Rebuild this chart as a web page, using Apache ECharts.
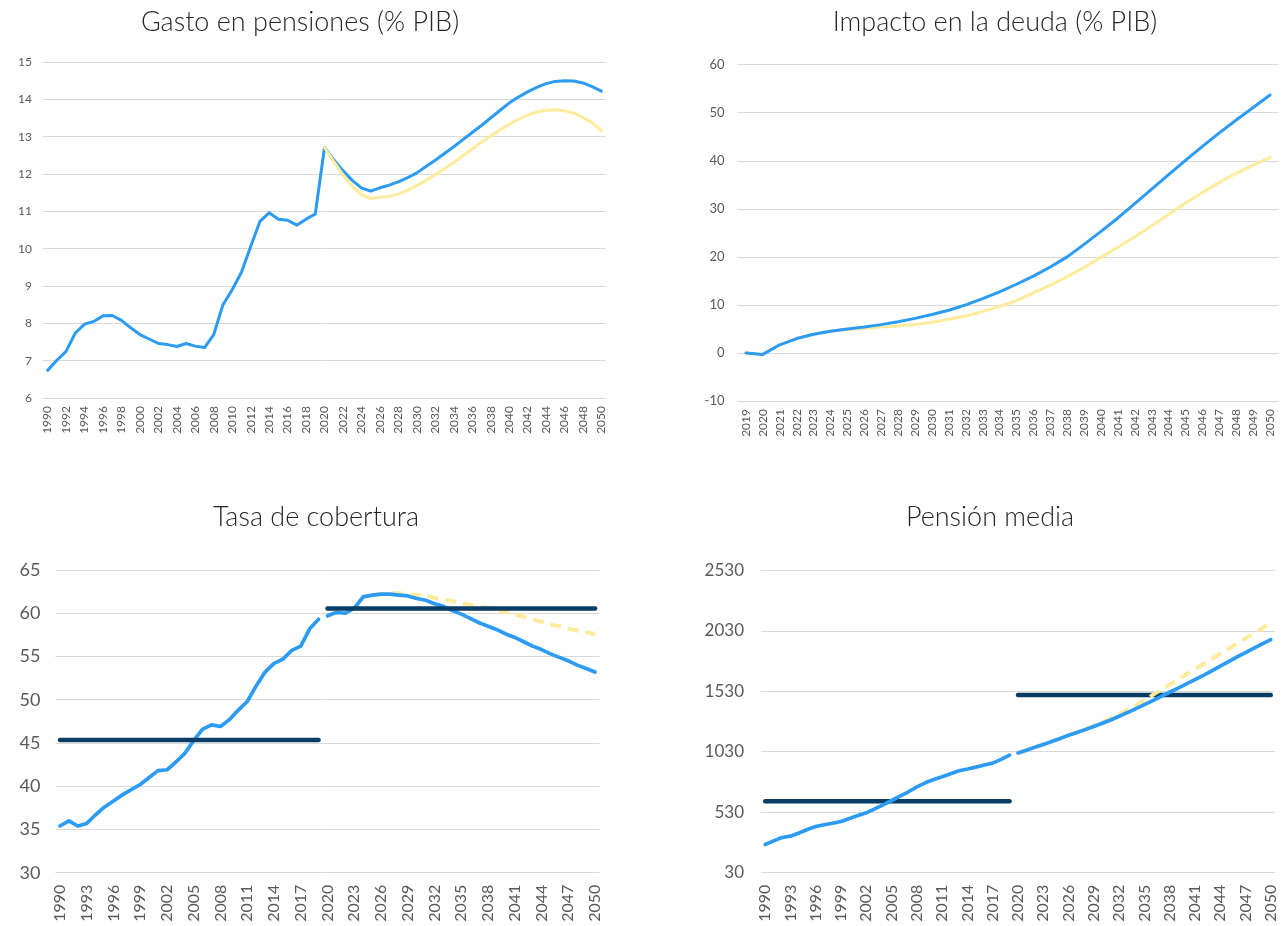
<!DOCTYPE html>
<html>
<head>
<meta charset="utf-8">
<title>Pensiones</title>
<script src="https://cdn.jsdelivr.net/npm/echarts@6/dist/echarts.min.js"></script>
<style>
  html, body { margin: 0; padding: 0; background: #fff; }
  #chart { width: 1283px; height: 926px; }
</style>
</head>
<body>
<div id="chart"></div>
<script>
// --- categorías (años) ---
const yearRange = (a, b) => { const out = []; for (let y = a; y <= b; y++) out.push(String(y)); return out; };
const yearsLong = yearRange(1990, 2050);   // gráficos 1, 3 y 4
const yearsDeuda = yearRange(2019, 2050);  // gráfico 2

// --- Gasto en pensiones (% PIB) ---
const gastoBase = [6.74, 7.01, 7.25, 7.74, 7.98, 8.05, 8.20, 8.21, 8.08, 7.88,
  7.70, 7.58, 7.46, 7.43, 7.38, 7.46, 7.39, 7.35, 7.70, 8.50,
  8.90, 9.37, 10.06, 10.73, 10.96, 10.79, 10.76, 10.63, 10.79, 10.93,
  12.71, 12.38, 12.09, 11.83, 11.63, 11.54, 11.63, 11.70, 11.79, 11.90,
  12.03, 12.20, 12.37, 12.55, 12.73, 12.92, 13.11, 13.30, 13.50, 13.70,
  13.90, 14.06, 14.20, 14.32, 14.42, 14.48, 14.50, 14.49, 14.44, 14.34, 14.22];
// 2020-2050
const gastoAlt = [12.71, 12.34, 11.98, 11.67, 11.45, 11.34, 11.38, 11.40, 11.46, 11.56,
  11.69, 11.83, 11.98, 12.14, 12.31, 12.49, 12.67, 12.85, 13.02, 13.18,
  13.33, 13.46, 13.58, 13.66, 13.71, 13.72, 13.69, 13.63, 13.52, 13.37, 13.16];

// --- Impacto en la deuda (% PIB), 2019-2050 ---
const deudaBase = [0, -0.3, 1.7, 3.0, 3.9, 4.5, 5.0, 5.4, 5.9, 6.5,
  7.2, 8.0, 8.9, 10.0, 11.3, 12.7, 14.3, 16.0, 17.9, 20.0,
  22.6, 25.3, 28.1, 31.1, 34.1, 37.1, 40.1, 43.0, 45.8, 48.5, 51.1, 53.7];
const deudaAlt = [0, -0.3, 1.7, 3.0, 3.9, 4.5, 4.9, 5.1, 5.4, 5.6,
  5.9, 6.4, 7.0, 7.7, 8.6, 9.7, 10.9, 12.5, 14.1, 15.9,
  17.8, 19.9, 22.0, 24.2, 26.5, 28.8, 31.2, 33.4, 35.5, 37.4, 39.1, 40.7];

// --- Tasa de cobertura ---
// 1990-2019
const cobHist = [35.4, 36.0, 35.4, 35.7, 36.7, 37.6, 38.3, 39.0, 39.6, 40.2,
  41.0, 41.8, 41.9, 42.8, 43.8, 45.3, 46.6, 47.1, 46.9, 47.7,
  48.8, 49.8, 51.6, 53.2, 54.2, 54.7, 55.7, 56.2, 58.2, 59.3];
// 2020-2050
const cobProj = [59.7, 60.1, 60.0, 60.6, 61.9, 62.1, 62.2, 62.2, 62.1, 62.0,
  61.7, 61.5, 61.1, 60.8, 60.3, 59.9, 59.4, 58.9, 58.5, 58.1,
  57.6, 57.2, 56.7, 56.2, 55.8, 55.3, 54.9, 54.5, 54.0, 53.6, 53.2];
const cobAlt = [59.7, 60.1, 60.0, 60.6, 61.9, 62.1, 62.2, 62.3, 62.3, 62.2,
  62.1, 62.0, 61.8, 61.6, 61.4, 61.2, 61.0, 60.8, 60.6, 60.4,
  60.1, 59.85, 59.6, 59.3, 59.0, 58.7, 58.5, 58.2, 58.0, 57.8, 57.6];
const cobMediaHist = 45.35;
const cobMediaProj = 60.55;

// --- Pensión media ---
// 1990-2019
const penHist = [263, 293, 321, 332, 359, 387, 412, 426, 439, 453,
  478, 503, 525, 558, 591, 627, 663, 699, 740, 773,
  801, 823, 848, 873, 887, 903, 920, 936, 967, 1002];
// 2020-2050
const penProj = [1020, 1043, 1067, 1090, 1114, 1140, 1166, 1189, 1213, 1238,
  1265, 1293, 1323, 1354, 1387, 1420, 1453, 1487, 1522, 1556,
  1591, 1626, 1662, 1699, 1737, 1775, 1814, 1850, 1886, 1921, 1957];
const penAlt = [1020, 1043, 1067, 1090, 1114, 1140, 1166, 1189, 1215, 1243,
  1275, 1307, 1340, 1377, 1415, 1457, 1500, 1542, 1585, 1627,
  1670, 1712, 1755, 1797, 1840, 1882, 1925, 1967, 2010, 2052, 2100];
const penMediaHist = 620;
const penMediaProj = 1500;

// colores
const BLUE = '#2b9bf4';
const YELLOW = '#ffeb9c';
const NAVY = '#0a3d66';
const GRID = '#d9d9d9';
const LABEL = '#595959';
const FONT = 'Lato, "Noto Sans", sans-serif';

// pone los valores en su tramo de años (el resto queda vacío)
const place = (vals, offset, total) => {
  const out = new Array(total).fill(null);
  vals.forEach((v, i) => { out[offset + i] = v; });
  return out;
};
const flat = (v, offset, count, total) => place(new Array(count).fill(v), offset, total);

const N = yearsLong.length;   // 61
const HIST = 30;              // 1990-2019

const line = (name, data, idx, color, width, extra) => Object.assign({
  name, type: 'line', data,
  xAxisIndex: idx, yAxisIndex: idx,
  showSymbol: false, symbol: 'none',
  lineStyle: { color, width, cap: 'round', join: 'round' },
  itemStyle: { color },
  silent: true, animation: false
}, extra || {});

const xAxis = (idx, data, interval, fontSize, margin) => ({
  type: 'category', gridIndex: idx, data, boundaryGap: true,
  axisLine: { show: false }, axisTick: { show: false },
  axisLabel: { interval, rotate: 90, fontSize, color: LABEL, fontFamily: FONT, margin }
});
const yAxis = (idx, min, max, interval, fontSize, margin) => ({
  type: 'value', gridIndex: idx, min, max, interval,
  axisLine: { show: false }, axisTick: { show: false },
  splitLine: { show: true, lineStyle: { color: GRID, width: 1 } },
  axisLabel: { fontSize, color: LABEL, fontFamily: FONT, margin, formatter: v => String(v) }
});
const title = (text, x, y) => ({
  text, left: x, top: y, textAlign: 'center', padding: 0,
  textStyle: { fontSize: 27, fontWeight: 300, color: '#262626', fontFamily: FONT }
});

const option = {
  backgroundColor: '#fff',
  animation: false,
  title: [
    title('Gasto en pensiones (% PIB)', 300, 9),
    title('Impacto en la deuda (% PIB)', 995, 9),
    title('Tasa de cobertura', 316, 504),
    title('Pensión media', 990, 504)
  ],
  grid: [
    { left: 43, right: 677, top: 62, bottom: 528 },
    { left: 737.5, right: 4.5, top: 64.7, bottom: 525 },
    { left: 55.5, right: 683.5, top: 570, bottom: 53.3 },
    { left: 761, right: 8, top: 570.3, bottom: 53.3 }
  ],
  xAxis: [
    xAxis(0, yearsLong, 1, 12, 8),
    xAxis(1, yearsDeuda, 0, 12, 8),
    xAxis(2, yearsLong, 2, 16, 12),
    xAxis(3, yearsLong, 2, 16, 12)
  ],
  yAxis: [
    yAxis(0, 6, 15, 1, 12, 11),
    yAxis(1, -10, 60, 10, 13, 13),
    yAxis(2, 30, 65, 5, 18, 15),
    yAxis(3, 30, 2530, 500, 17, 17)
  ],
  series: [
    // 1
    line('Base', gastoBase, 0, BLUE, 3),
    line('Alternativo', place(gastoAlt, HIST, N), 0, YELLOW, 3),
    // 2
    line('Alternativo', deudaAlt, 1, YELLOW, 3),
    line('Base', deudaBase, 1, BLUE, 3),
    // 3
    line('Alternativo', place(cobAlt, HIST, N), 2, YELLOW, 4, { lineStyle: { color: YELLOW, width: 4, type: [11, 7] } }),
    line('Histórico', place(cobHist, 0, N), 2, BLUE, 3.7),
    line('Proyección', place(cobProj, HIST, N), 2, BLUE, 3.7),
    line('Media histórica', flat(cobMediaHist, 0, HIST, N), 2, NAVY, 4.5),
    line('Media proyección', flat(cobMediaProj, HIST, N - HIST, N), 2, NAVY, 4.5),
    // 4
    line('Media histórica', flat(penMediaHist, 0, HIST, N), 3, NAVY, 4.5),
    line('Media proyección', flat(penMediaProj, HIST, N - HIST, N), 3, NAVY, 4.5),
    line('Alternativo', place(penAlt, HIST, N), 3, YELLOW, 4, { lineStyle: { color: YELLOW, width: 4, type: [11, 7] } }),
    line('Histórico', place(penHist, 0, N), 3, BLUE, 3.7),
    line('Proyección', place(penProj, HIST, N), 3, BLUE, 3.7)
  ]
};

const myChart = echarts.init(document.getElementById('chart'), null, { renderer: 'canvas' });
myChart.setOption(option);
</script>
</body>
</html>
